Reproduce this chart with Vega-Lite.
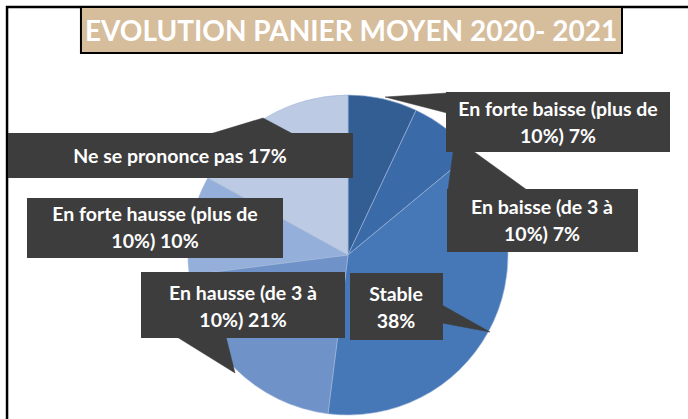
{
  "$schema": "https://vega.github.io/schema/vega-lite/v6.json",
  "width": 688,
  "height": 419,
  "autosize": {"type": "none"},
  "padding": 0,
  "background": "#ffffff",
  "config": {"view": {"stroke": null}},
  "datasets": {
    "slices": [
      {"cat": "En forte baisse (plus de 10%)", "pct": 7, "ord": 1, "cx": 0, "cy": 0},
      {"cat": "En baisse (de 3 à 10%)", "pct": 7, "ord": 2, "cx": 0, "cy": 0},
      {"cat": "Stable", "pct": 38, "ord": 3, "cx": 0, "cy": 0},
      {"cat": "En hausse (de 3 à 10%)", "pct": 21, "ord": 4, "cx": 0, "cy": 0},
      {"cat": "En forte hausse (plus de 10%)", "pct": 10, "ord": 5, "cx": 0, "cy": 0},
      {"cat": "Ne se prononce pas", "pct": 17, "ord": 6, "cx": 0, "cy": 0}
    ],
    "boxes": [
      {"id": "nsp", "x1": -2.125, "x2": 0.03125, "y1": 0.7625, "y2": 0.48125, "tx": -1.05, "ty": 0.6125, "label": "Ne se prononce pas 17%"},
      {"id": "fh", "x1": -2.00625, "x2": -0.40625, "y1": 0.35625, "y2": -0.01875, "tx": -1.20625, "ty": 0.253, "label": "En forte hausse (plus de\n10%) 10%"},
      {"id": "h", "x1": -1.29375, "x2": -0.01875, "y1": -0.10625, "y2": -0.51875, "tx": -0.65625, "ty": -0.241, "label": "En hausse (de 3 à\n10%) 21%"},
      {"id": "s", "x1": 0.0125, "x2": 0.59375, "y1": -0.1125, "y2": -0.53125, "tx": 0.3, "ty": -0.247, "label": "Stable\n38%"},
      {"id": "fb", "x1": 0.6125, "x2": 2.0125, "y1": 1.01875, "y2": 0.64375, "tx": 1.3125, "ty": 0.909, "label": "En forte baisse (plus de\n10%) 7%"},
      {"id": "b", "x1": 0.61875, "x2": 1.8125, "y1": 0.4125, "y2": 0.01875, "tx": 1.2125, "ty": 0.2965, "label": "En baisse (de 3 à\n10%) 7%"}
    ],
    "pointers": [
      {"id": "nsp", "o": 1, "px": -0.8625, "py": 0.75625},
      {"id": "nsp", "o": 2, "px": -0.53125, "py": 0.85625},
      {"id": "nsp", "o": 3, "px": -0.34375, "py": 0.75625},
      {"id": "h", "o": 1, "px": -1.06875, "py": -0.5125},
      {"id": "h", "o": 2, "px": -0.70625, "py": -0.7375},
      {"id": "h", "o": 3, "px": -0.7625, "py": -0.5125},
      {"id": "s", "o": 1, "px": 0.5875, "py": -0.3125},
      {"id": "s", "o": 2, "px": 0.8875, "py": -0.48125},
      {"id": "s", "o": 3, "px": 0.5875, "py": -0.425},
      {"id": "fb", "o": 1, "px": 0.61875, "py": 1.0125},
      {"id": "fb", "o": 2, "px": 0.23125, "py": 0.9875},
      {"id": "fb", "o": 3, "px": 0.61875, "py": 0.8875},
      {"id": "b", "o": 1, "px": 0.625, "py": 0.40625},
      {"id": "b", "o": 2, "px": 0.66875, "py": 0.73125},
      {"id": "b", "o": 3, "px": 1.11875, "py": 0.40625}
    ],
    "frame": [
      {"x1": -2.131, "x2": 2.3, "y1": 1.55, "y2": -1.3}
    ],
    "title": [
      {"x1": -1.669, "x2": 1.7125, "y1": 1.55, "y2": 1.2625, "tx": 0.019, "ty": 1.385, "label": "EVOLUTION PANIER MOYEN 2020- 2021"}
    ]
  },
  "layer": [
    {
      "data": {"name": "frame"},
      "mark": {"type": "rect", "filled": false, "stroke": "#000000", "strokeWidth": 2.5},
      "encoding": {
        "x": {"field": "x1", "type": "quantitative", "scale": {"domain": [-2.175, 2.125], "nice": false, "zero": false}, "axis": null},
        "x2": {"field": "x2"},
        "y": {"field": "y1", "type": "quantitative", "scale": {"domain": [-1.025, 1.59375], "nice": false, "zero": false}, "axis": null},
        "y2": {"field": "y2"}
      }
    },
    {
      "data": {"name": "slices"},
      "mark": {"type": "arc", "outerRadius": 160, "stroke": "#9fb5d8", "strokeWidth": 0.6},
      "encoding": {
        "x": {"field": "cx", "type": "quantitative"},
        "y": {"field": "cy", "type": "quantitative"},
        "theta": {"field": "pct", "type": "quantitative", "stack": true},
        "order": {"field": "ord", "type": "quantitative"},
        "color": {
          "field": "cat", "type": "nominal", "legend": null,
          "scale": {
            "domain": ["En forte baisse (plus de 10%)", "En baisse (de 3 à 10%)", "Stable", "En hausse (de 3 à 10%)", "En forte hausse (plus de 10%)", "Ne se prononce pas"],
            "range": ["#335E93", "#3A6AA7", "#4678B7", "#6F92C8", "#94AFDA", "#BCCAE3"]
          }
        }
      }
    },
    {
      "data": {"name": "boxes"},
      "mark": {"type": "rect", "fill": "#000000", "opacity": 0.22, "xOffset": 3, "yOffset": 4},
      "encoding": {
        "x": {"field": "x1", "type": "quantitative"},
        "x2": {"field": "x2"},
        "y": {"field": "y1", "type": "quantitative"},
        "y2": {"field": "y2"}
      }
    },
    {
      "data": {"name": "pointers"},
      "mark": {"type": "line", "interpolate": "linear-closed", "fill": "#3d3d3d", "stroke": "#3d3d3d", "strokeWidth": 0.5},
      "encoding": {
        "x": {"field": "px", "type": "quantitative"},
        "y": {"field": "py", "type": "quantitative"},
        "detail": {"field": "id", "type": "nominal"},
        "order": {"field": "o", "type": "quantitative"}
      }
    },
    {
      "data": {"name": "boxes"},
      "mark": {"type": "rect", "fill": "#3d3d3d"},
      "encoding": {
        "x": {"field": "x1", "type": "quantitative"},
        "x2": {"field": "x2"},
        "y": {"field": "y1", "type": "quantitative"},
        "y2": {"field": "y2"}
      }
    },
    {
      "data": {"name": "boxes"},
      "mark": {"type": "text", "font": "Lato", "fontWeight": "bold", "fontSize": 19.5, "fill": "#ffffff", "align": "center", "baseline": "middle", "lineBreak": "\n", "lineHeight": 27},
      "encoding": {
        "x": {"field": "tx", "type": "quantitative"},
        "y": {"field": "ty", "type": "quantitative"},
        "text": {"field": "label", "type": "nominal"}
      }
    },
    {
      "data": {"name": "title"},
      "mark": {"type": "rect", "fill": "#D6BD9C", "stroke": "#000000", "strokeWidth": 2},
      "encoding": {
        "x": {"field": "x1", "type": "quantitative"},
        "x2": {"field": "x2"},
        "y": {"field": "y1", "type": "quantitative"},
        "y2": {"field": "y2"}
      }
    },
    {
      "data": {"name": "title"},
      "mark": {"type": "text", "font": "Lato", "fontWeight": "bold", "fontSize": 28, "fill": "#ffffff", "align": "center", "baseline": "middle"},
      "encoding": {
        "x": {"field": "tx", "type": "quantitative"},
        "y": {"field": "ty", "type": "quantitative"},
        "text": {"field": "label", "type": "nominal"}
      }
    }
  ]
}
